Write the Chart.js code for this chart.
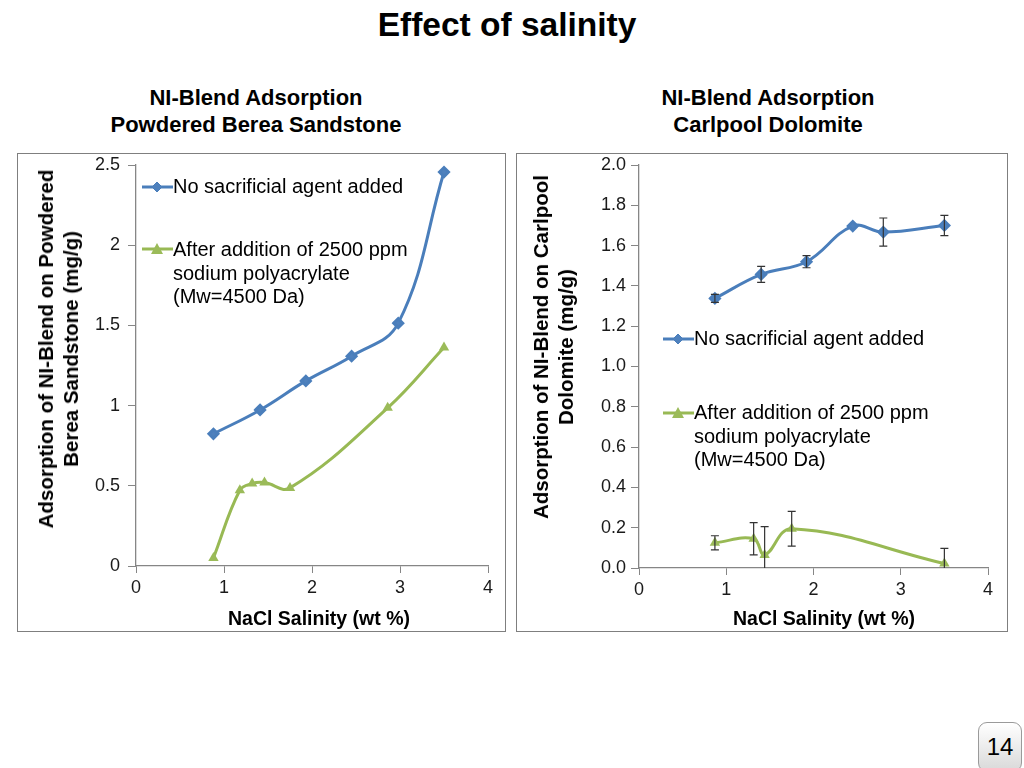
<!DOCTYPE html>
<html>
<head>
<meta charset="utf-8">
<script src="https://cdn.jsdelivr.net/npm/chart.js@4.4.1/dist/chart.umd.min.js"></script>
<style>
  html, body { margin:0; padding:0; background:#fff; }
  body { width:1024px; height:768px; position:relative; overflow:hidden; font-family:"Liberation Sans", Arial, sans-serif; color:#000; }
  .abs { position:absolute; }
  .title { left:0; width:1014px; top:6px; text-align:center; font-weight:bold; font-size:33.5px; }
  .sub { font-weight:bold; font-size:22px; text-align:center; line-height:27px; width:440px; }
  .box { border:1px solid #7f7f7f; box-sizing:border-box; }
  .box canvas { position:absolute; left:0; top:0; }
  .ytitle { font-weight:bold; font-size:20.5px; line-height:25px; text-align:center; white-space:nowrap; transform-origin:center center; transform:translate(-50%,-50%) rotate(-90deg); }
  .xtitle { font-weight:bold; font-size:19.5px; white-space:nowrap; transform:translate(-50%,-50%); }
  .leg { font-size:20px; line-height:23.5px; white-space:nowrap; }
  .sym { position:absolute; }
  .pagenum { left:978px; top:722px; width:44px; height:50px; border:1px solid #9a9a9a; border-radius:9px; background:linear-gradient(#ffffff,#d9d9d9); font-size:24px; text-align:center; line-height:48px; box-sizing:border-box; }
</style>
</head>
<body>
<div class="abs title">Effect of salinity</div>
<div class="abs sub" style="left:36px;top:84px;">NI-Blend Adsorption<br>Powdered Berea Sandstone</div>
<div class="abs sub" style="left:548px;top:84px;">NI-Blend Adsorption<br>Carlpool Dolomite</div>

<div class="abs box" style="left:17px;top:153px;width:489px;height:479px;"><canvas id="c1"></canvas></div>
<div class="abs box" style="left:516px;top:153px;width:492px;height:479px;"><canvas id="c2"></canvas></div>

<div class="abs ytitle" style="left:58px;top:349px;">Adsorption of NI-Blend on Powdered<br>Berea Sandstone (mg/g)</div>
<div class="abs ytitle" style="left:553px;top:347px;">Adsorption of NI-Blend on Carlpool<br>Dolomite (mg/g)</div>
<div class="abs xtitle" style="left:319px;top:618px;">NaCl Salinity (wt %)</div>
<div class="abs xtitle" style="left:824px;top:618px;">NaCl Salinity (wt %)</div>

<!-- legends -->
<svg class="sym" style="left:141px;top:180px;" width="34" height="14"><line x1="1" y1="7" x2="32" y2="7" stroke="#4a7ebb" stroke-width="3"/><polygon points="16,2 21,7 16,12 11,7" fill="#4f81bd" stroke="#4a7ebb"/></svg>
<div class="abs leg" style="left:173px;top:175px;">No sacrificial agent added</div>
<svg class="sym" style="left:141px;top:242px;" width="34" height="14"><line x1="1" y1="7" x2="32" y2="7" stroke="#98b954" stroke-width="3"/><polygon points="16,1 22,12 10,12" fill="#9bbb59"/></svg>
<div class="abs leg" style="left:173px;top:238px;">After addition of 2500 ppm<br>sodium polyacrylate<br>(Mw=4500 Da)</div>

<svg class="sym" style="left:662px;top:332px;" width="34" height="14"><line x1="1" y1="7" x2="32" y2="7" stroke="#4a7ebb" stroke-width="3"/><polygon points="16,2 21,7 16,12 11,7" fill="#4f81bd" stroke="#4a7ebb"/></svg>
<div class="abs leg" style="left:694px;top:327px;">No sacrificial agent added</div>
<svg class="sym" style="left:662px;top:406px;" width="34" height="14"><line x1="1" y1="7" x2="32" y2="7" stroke="#98b954" stroke-width="3"/><polygon points="16,1 22,12 10,12" fill="#9bbb59"/></svg>
<div class="abs leg" style="left:694px;top:401px;">After addition of 2500 ppm<br>sodium polyacrylate<br>(Mw=4500 Da)</div>

<div class="abs pagenum">14</div>

<script>
// ---------- DATA ----------
// Left chart: Powdered Berea Sandstone
const sandNoAgentX = [0.88, 1.41, 1.93, 2.45, 2.98, 3.50];
const sandNoAgentY = [0.824, 0.973, 1.154, 1.308, 1.514, 2.456];
const sandPolyX = [0.88, 1.18, 1.32, 1.46, 1.75, 2.86, 3.50];
const sandPolyY = [0.05, 0.472, 0.514, 0.52, 0.487, 0.986, 1.362];
const sandYTicks = { min: 0, max: 2.5, step: 0.5 };

// Right chart: Carlpool Dolomite
const doloNoAgentX = [0.87, 1.40, 1.92, 2.45, 2.80, 3.50];
const doloNoAgentY = [1.338, 1.457, 1.52, 1.697, 1.667, 1.70];
const doloNoAgentErr = [0.02, 0.04, 0.03, 0, 0.07, 0.05];
const doloPolyX = [0.87, 1.314, 1.44, 1.75, 3.50];
const doloPolyY = [0.125, 0.145, 0.065, 0.195, 0.022];
const doloPolyErr = [0.035, 0.08, 0.14, 0.086, 0.075];
const doloYTicks = { min: 0, max: 2.0, step: 0.2 };

const xTicks = { min: 0, max: 4, step: 1 };
const seriesNames = ["No sacrificial agent added", "After addition of 2500 ppm sodium polyacrylate (Mw=4500 Da)"];

// ---------- HELPERS ----------
const FONT = '"Liberation Sans", Arial, sans-serif';
const BLUE_LINE = '#4a7ebb', BLUE_PT = '#4f81bd';
const GREEN_LINE = '#98b954', GREEN_PT = '#9bbb59';
const AXIS = '#868686';

function pts(xs, ys) { return xs.map((x, i) => ({ x: x, y: ys[i] })); }

const errorBars = {
  id: 'errorBars',
  afterDatasetsDraw(chart) {
    const ctx = chart.ctx, ys = chart.scales.y, a = chart.chartArea;
    ctx.save();
    ctx.beginPath();
    ctx.rect(a.left, a.top - 20, a.right - a.left, a.bottom - a.top + 20);
    ctx.clip();
    ctx.strokeStyle = '#333';
    ctx.lineWidth = 1.2;
    chart.data.datasets.forEach((ds, di) => {
      if (!ds.errors) return;
      const meta = chart.getDatasetMeta(di);
      meta.data.forEach((el, i) => {
        const e = ds.errors[i];
        if (!e) return;
        const v = ds.data[i].y;
        const top = ys.getPixelForValue(v + e);
        const rawBot = ys.getPixelForValue(v - e);
        const bot = Math.min(rawBot, a.bottom);
        const x = el.x;
        ctx.beginPath();
        ctx.moveTo(x, top); ctx.lineTo(x, bot);
        ctx.moveTo(x - 4, top); ctx.lineTo(x + 4, top);
        if (rawBot <= a.bottom) { ctx.moveTo(x - 4, bot); ctx.lineTo(x + 4, bot); }
        ctx.stroke();
      });
    });
    ctx.restore();
  }
};

function makeChart(id, w, h, cfg) {
  const cv = document.getElementById(id);
  cv.width = w; cv.height = h;
  cv.style.width = w + 'px'; cv.style.height = h + 'px';
  return new Chart(cv, {
    type: 'line',
    data: {
      datasets: [
        { label: seriesNames[0], data: pts(cfg.bx, cfg.by), errors: cfg.be,
          borderColor: BLUE_LINE, backgroundColor: BLUE_PT, borderWidth: 3,
          pointStyle: 'rectRot', pointRadius: 4.5, pointBorderColor: BLUE_LINE, pointBackgroundColor: BLUE_PT,
          tension: 0.4, fill: false },
        { label: seriesNames[1], data: pts(cfg.gx, cfg.gy), errors: cfg.ge,
          borderColor: GREEN_LINE, backgroundColor: GREEN_PT, borderWidth: 3,
          pointStyle: 'triangle', pointRadius: 6, pointBorderWidth: 0, pointBackgroundColor: GREEN_PT,
          tension: 0.4, fill: false }
      ]
    },
    options: {
      responsive: false, animation: false, devicePixelRatio: 1,
      layout: { padding: { top: 11, right: cfg.padRight, bottom: 0, left: 0 } },
      plugins: { legend: { display: false }, tooltip: { enabled: false }, title: { display: false } },
      scales: {
        x: {
          type: 'linear', min: xTicks.min, max: xTicks.max,
          ticks: { stepSize: xTicks.step, color: '#1a1a1a', font: { family: FONT, size: 18 }, padding: 4 },
          grid: { display: true, drawOnChartArea: false, drawTicks: true, tickLength: 7, color: AXIS },
          border: { display: true, color: AXIS, width: 1.3 },
          afterFit: s => { s.height = cfg.xH; s.paddingLeft = 0; s.paddingRight = 0; }
        },
        y: {
          type: 'linear', min: cfg.yt.min, max: cfg.yt.max,
          ticks: { stepSize: cfg.yt.step, color: '#1a1a1a', font: { family: FONT, size: 18 }, padding: cfg.yPad,
                   callback: cfg.yFmt },
          grid: { display: true, drawOnChartArea: false, drawTicks: true, tickLength: 8, color: AXIS },
          border: { display: true, color: AXIS, width: 1.3 },
          afterFit: s => { s.width = cfg.yW; s.paddingTop = 0; s.paddingBottom = 0; }
        }
      }
    },
    plugins: [errorBars]
  });
}

makeChart('c1', 487, 477, {
  bx: sandNoAgentX, by: sandNoAgentY, be: null,
  gx: sandPolyX, gy: sandPolyY, ge: null,
  yt: sandYTicks, yFmt: v => String(Math.round(v * 10) / 10),
  padRight: 17, xH: 65, yW: 118, yPad: 8
});
makeChart('c2', 490, 477, {
  bx: doloNoAgentX, by: doloNoAgentY, be: doloNoAgentErr,
  gx: doloPolyX, gy: doloPolyY, ge: doloPolyErr,
  yt: doloYTicks, yFmt: v => v.toFixed(1),
  padRight: 19, xH: 63, yW: 122, yPad: 5
});
</script>
</body>
</html>
